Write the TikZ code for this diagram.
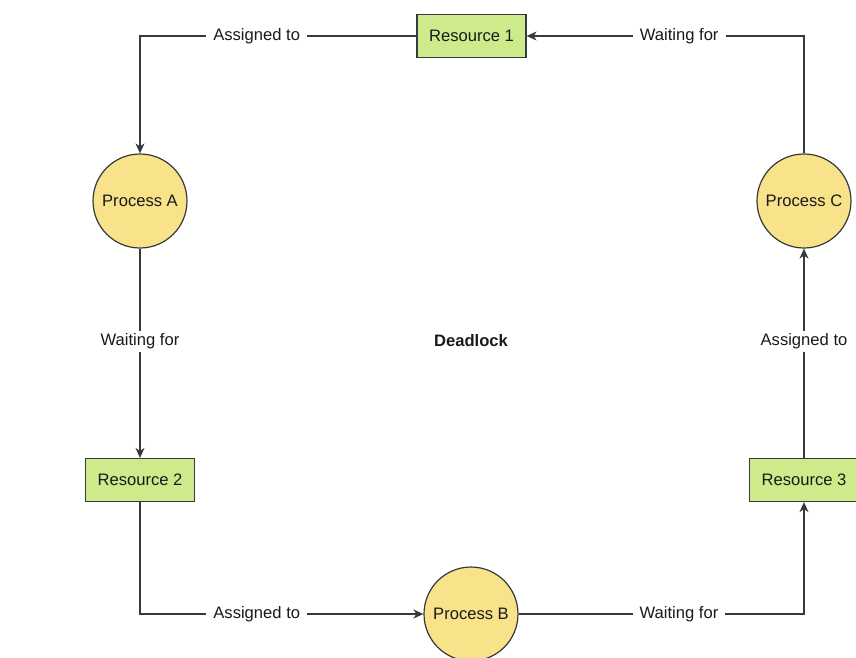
\documentclass[tikz,border=0pt]{standalone}
\usepackage{fontspec}
\setmainfont{Liberation Sans}
\usetikzlibrary{arrows.meta}
\definecolor{resfill}{HTML}{CDEB8B}
\definecolor{procfill}{HTML}{F9E38A}
\definecolor{edgecol}{HTML}{36393D}
\definecolor{txt}{HTML}{1A1A1A}
\begin{document}
\begin{tikzpicture}[x=1pt,y=-1pt,
  every node/.style={font=\fontsize{16.6}{19}\selectfont, text=txt},
  res/.style={draw=edgecol, line width=1.2pt, fill=resfill, rectangle, minimum width=109pt, minimum height=43pt, inner sep=0pt},
  proc/.style={draw=edgecol, line width=1.2pt, fill=procfill, circle, minimum size=94pt, inner sep=0pt},
  arr/.style={draw=edgecol, line width=1.3pt, -{Stealth[length=10pt,width=9pt,inset=3pt]}},
  lbl/.style={fill=white, inner xsep=7pt, inner ysep=3pt}]
\useasboundingbox (0,0) rectangle (856,657);
\clip (0,0) rectangle (856,657);
\node[res] (r1) at (471.5,36) {Resource 1};
\node[proc] (pa) at (140,201) {Process A};
\node[res] (r2) at (140,480) {Resource 2};
\node[proc] (pb) at (471,614) {Process B};
\node[res] (r3) at (804,480) {Resource 3};
\node[proc] (pc) at (804,201) {Process C};
\node[font=\fontsize{16.6}{19}\selectfont\bfseries] (dl) at (471,341) {Deadlock};
\draw[arr] (r1.west) -| node[lbl, pos=0.289] {Assigned to} (pa.north);
\draw[arr] (pa.south) -- node[lbl, pos=0.443] {Waiting for} (r2.north);
\draw[arr] (r2.south) |- node[lbl, pos=0.706] {Assigned to} (pb.west);
\draw[arr] (pb.east) -| node[lbl, pos=0.281] {Waiting for} (r3.south);
\draw[arr] (r3.north) -- node[lbl, pos=0.557] {Assigned to} (pc.south);
\draw[arr] (pc.north) |- node[lbl, pos=0.725] {Waiting for} (r1.east);
\end{tikzpicture}
\end{document}
